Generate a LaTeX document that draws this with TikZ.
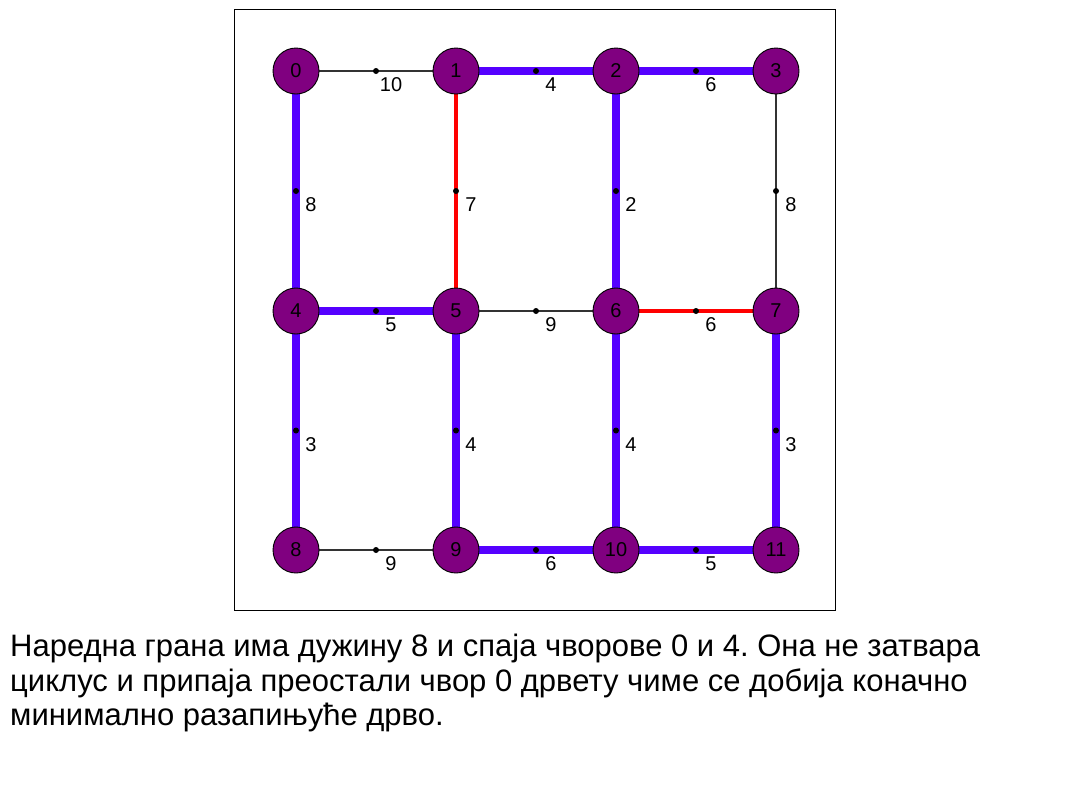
\documentclass[tikz,border=0pt]{standalone}
\usepackage{fontspec}
\setmainfont{Liberation Sans}
\frenchspacing
\definecolor{mstblue}{HTML}{5500FF}
\definecolor{vpurple}{HTML}{800080}
\definecolor{thin}{HTML}{333333}
\begin{document}
\begin{tikzpicture}[x=1pt,y=-1pt,
  vtx/.style={circle,draw=black,line width=0.9pt,fill=vpurple,minimum size=46pt,inner sep=0pt,font=\fontsize{20}{20}\selectfont},
  tree/.style={draw=mstblue,line width=8pt},
  rej/.style={draw=red,line width=4pt},
  plain/.style={draw=thin,line width=1.2pt},
  wlab/.style={font=\fontsize{20}{20}\selectfont,anchor=center,inner sep=0pt},
  mdot/.style={circle,fill=black,inner sep=0pt,minimum size=6pt},
  para/.style={font=\fontsize{31}{31}\selectfont,anchor=base west,inner sep=0pt}]
\useasboundingbox (0,0) rectangle (1070,785);
\fill[white] (0,0) rectangle (1070,785);
\draw[black,line width=0.8pt] (234.5,9.5) rectangle (835.5,610.5);
\coordinate (p0) at (296,71);
\coordinate (p1) at (456,71);
\coordinate (p2) at (616,71);
\coordinate (p3) at (776,71);
\coordinate (p4) at (296,311);
\coordinate (p5) at (456,311);
\coordinate (p6) at (616,311);
\coordinate (p7) at (776,311);
\coordinate (p8) at (296,550);
\coordinate (p9) at (456,550);
\coordinate (p10) at (616,550);
\coordinate (p11) at (776,550);
% edges with midpoint dots and weights
\foreach \a/\b/\w/\s in {0/1/10/plain,1/2/4/tree,2/3/6/tree,0/4/8/tree,1/5/7/rej,2/6/2/tree,3/7/8/plain,4/5/5/tree,5/6/9/plain,6/7/6/rej,4/8/3/tree,5/9/4/tree,6/10/4/tree,7/11/3/tree,8/9/9/plain,9/10/6/tree,10/11/5/tree}{
  \path[\s] (p\a) -- (p\b) node[mdot,pos=0.5,draw=none] (m\a-\b) {};
  \node[wlab] (l\a-\b) at ([shift={(15,14)}]m\a-\b) {\w};
}
% vertices
\foreach \i in {0,...,11}{
  \node[vtx] (v\i) at (p\i) {\i};
}
% text
\node[para] (t1) at (10,656) {Наредна грана има дужину 8 и спаја чворове 0 и 4. Она не затвара};
\node[para] (t2) at (10,691) {циклус и припаја преостали чвор 0 дрвету чиме се добија коначно};
\node[para] (t3) at (10,725) {минимално разапињуће дрво.};
\end{tikzpicture}
\end{document}
